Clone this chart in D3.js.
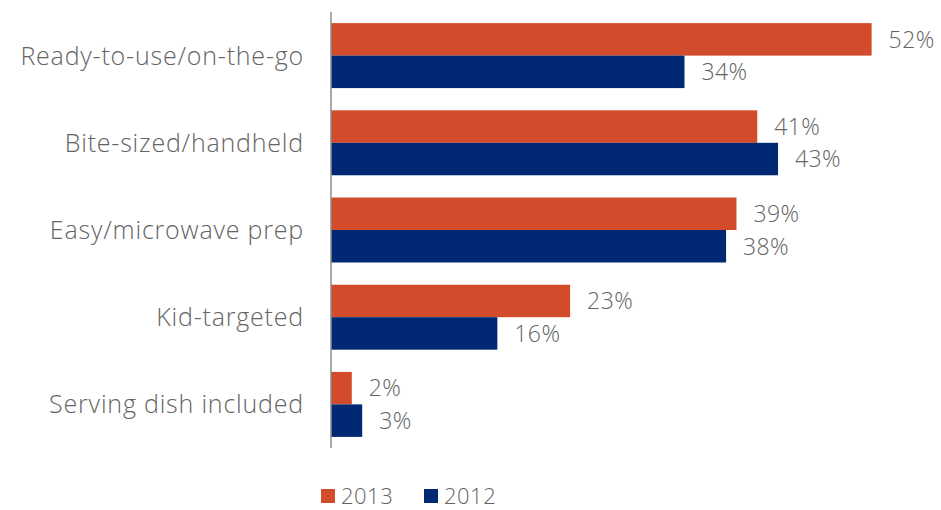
<!DOCTYPE html>
<html>
<head>
<meta charset="utf-8">
<script src="https://cdn.jsdelivr.net/npm/d3@7"></script>
<style>
  html, body { margin: 0; padding: 0; background: #fff; }
  svg { display: block; }
  text { font-family: "Open Sans", Lato, sans-serif; fill: #646464; font-weight: 300; }
</style>
</head>
<body>
<svg id="chart" width="941" height="510"></svg>
<script>
// Product attributes, share of launches by year
const categories = [
  "Ready-to-use/on-the-go",
  "Bite-sized/handheld",
  "Easy/microwave prep",
  "Kid-targeted",
  "Serving dish included"
];
const values2013 = [52, 41, 39, 23, 2];
const values2012 = [34, 43, 38, 16, 3];
const seriesNames = ["2013", "2012"];
const seriesColors = ["#D24B2A", "#002873"];

const svg = d3.select("#chart");

const axisX = 331, plotTop = 12, plotBottom = 448;

const x = d3.scaleLinear().domain([0, 58]).range([axisX, axisX + 603]);
const y = d3.scaleBand().domain(categories).range([plotTop, plotBottom])
  .paddingInner(0.255).paddingOuter(0.1275);
const ySub = d3.scaleBand().domain(seriesNames).range([0, y.bandwidth()]);

const rows = categories.map((c, i) => ({
  cat: c,
  vals: [
    { s: "2013", v: values2013[i] },
    { s: "2012", v: values2012[i] }
  ]
}));

const color = d3.scaleOrdinal().domain(seriesNames).range(seriesColors);

const groups = svg.append("g").selectAll("g")
  .data(rows).join("g")
  .attr("transform", d => `translate(0,${y(d.cat)})`);

groups.selectAll("rect")
  .data(d => d.vals).join("rect")
  .attr("x", x(0))
  .attr("y", d => ySub(d.s))
  .attr("width", d => x(d.v) - x(0))
  .attr("height", ySub.bandwidth())
  .attr("fill", d => color(d.s));

groups.selectAll("text.val")
  .data(d => d.vals).join("text")
  .attr("class", "val")
  .attr("x", d => x(d.v) + 17)
  .attr("y", d => ySub(d.s) + ySub.bandwidth() / 2)
  .attr("dy", "0.36em")
  .style("font-size", "23px")
  .style("letter-spacing", "0.4px")
  .text(d => d.v + "%");

// Category axis: line only, labels right-aligned
const yAxis = d3.axisLeft(y).tickSize(0).tickPadding(27);
const ag = svg.append("g")
  .attr("transform", `translate(${axisX},0)`)
  .call(yAxis);
ag.select(".domain").remove();
ag.selectAll("text")
  .style("font-size", "25px")
  .style("letter-spacing", "0.8px")
  .style("font-family", "'Open Sans', Lato, sans-serif")
  .attr("fill", "#646464")
  .attr("dy", "0.36em");

svg.append("line")
  .attr("x1", axisX).attr("x2", axisX)
  .attr("y1", plotTop).attr("y2", plotBottom)
  .attr("stroke", "#8c8c8c")
  .attr("stroke-width", 1.5);

// Legend
const legendItems = [
  { name: "2013", x: 321 },
  { name: "2012", x: 424 }
];
const lg = svg.append("g").selectAll("g")
  .data(legendItems).join("g")
  .attr("transform", d => `translate(${d.x},489)`);
lg.append("rect")
  .attr("width", 14).attr("height", 14)
  .attr("fill", d => color(d.name));
lg.append("text")
  .attr("x", 20).attr("y", 7)
  .attr("dy", "0.36em")
  .style("font-size", "22px")
  .style("letter-spacing", "0.5px")
  .text(d => d.name);
</script>
</body>
</html>
